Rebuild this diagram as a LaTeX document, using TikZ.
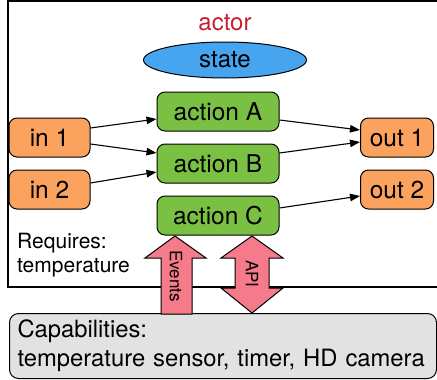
\documentclass[tikz,border=0pt]{standalone}
\usepackage{fontspec}
\setmainfont{TeX Gyre Heros}
\usetikzlibrary{arrows.meta,shapes.geometric}
\definecolor{actorred}{RGB}{200,30,45}
\definecolor{stateblue}{RGB}{71,164,239}
\definecolor{actgreen}{RGB}{122,193,67}
\definecolor{ioorange}{RGB}{250,162,94}
\definecolor{apipink}{RGB}{245,122,138}
\definecolor{capgray}{RGB}{226,226,226}
\tikzset{
  boxbase/.style={draw=black, line width=1pt, rounded corners=8pt, minimum height=39pt, inner sep=0pt, font=\fontsize{24.5}{28}\selectfont},
  actbox/.style={boxbase, fill=actgreen, minimum width=122pt},
  inbox/.style={boxbase, fill=ioorange, minimum width=81pt},
  outbox/.style={boxbase, fill=ioorange, minimum width=73pt},
  flow/.style={line width=1.1pt, -{Triangle[length=10pt,width=7.5pt]}},
  pinkarrow/.style={draw=black, line width=1pt, fill=apipink},
  smalllabel/.style={font=\fontsize{17}{20}\selectfont, inner sep=0pt, rotate=-90}
}
\begin{document}
\begin{tikzpicture}[x=1pt,y=-1pt]
\useasboundingbox (0,0) rectangle (437,380);
\clip (0,0) rectangle (437,380);
% actor frame
\draw[line width=2pt] (8,1) rectangle (460,287);
\node[text=actorred, font=\fontsize{24}{28}\selectfont, inner sep=0pt] (actor) at (225,23) {actor};
\node[draw=black, line width=1pt, ellipse, fill=stateblue, minimum width=163pt, minimum height=36pt, inner sep=0pt, font=\fontsize{24}{28}\selectfont] (state) at (225,60) {state};
\node[actbox] (actA) at (218,111.5) {action A};
\node[actbox] (actB) at (218,163.5) {action B};
\node[actbox] (actC) at (218,215.5) {action C};
\node[inbox] (in1) at (49.5,137.5) {in 1};
\node[inbox] (in2) at (49.5,189.5) {in 2};
\node[outbox] (out1) at (397,137.5) {out 1};
\node[outbox] (out2) at (397,189.5) {out 2};
\draw[flow] ([yshift=9.5pt]in1.east) -- ([yshift=-7.5pt]actA.west);
\draw[flow] ([yshift=-6.5pt]in1.east) -- ([yshift=10.5pt]actB.west);
\draw[flow] ([yshift=6.5pt]in2.east) -- ([yshift=-8.5pt]actB.west);
\draw[flow] ([yshift=-8.5pt]actA.east) -- ([yshift=7.5pt]out1.west);
\draw[flow] ([yshift=10.5pt]actB.east) -- ([yshift=-4.5pt]out1.west);
\draw[flow] ([yshift=7.5pt]actC.east) -- ([yshift=-6.5pt]out2.west);
\node[anchor=north west, align=left, inner sep=0pt, font=\fontsize{21}{24}\selectfont] (req) at (17,233) {Requires:\\temperature};
% capabilities
\node[draw=black, line width=1pt, fill=capgray, rounded corners=9pt, anchor=north west, minimum width=427pt, minimum height=65pt, align=left, text width=411pt, inner xsep=8pt, inner ysep=0pt, font=\fontsize{23.8}{29}\selectfont] (cap) at (9,313) {Capabilities:\\temperature sensor, timer, HD camera};
% events / api arrows
\path[pinkarrow] (175,236) -- (206,258) -- (192,258) -- (192,314) -- (161,314) -- (161,258) -- (145,258) -- cycle;
\path[pinkarrow] (252,236) -- (283,258) -- (269,258) -- (269,288) -- (283,288) -- (252,313) -- (221,288) -- (235,288) -- (235,258) -- (221,258) -- cycle;
\node[smalllabel] (events) at (176,276) {Events};
\node[smalllabel] (api) at (252,274) {API};
\end{tikzpicture}
\end{document}
